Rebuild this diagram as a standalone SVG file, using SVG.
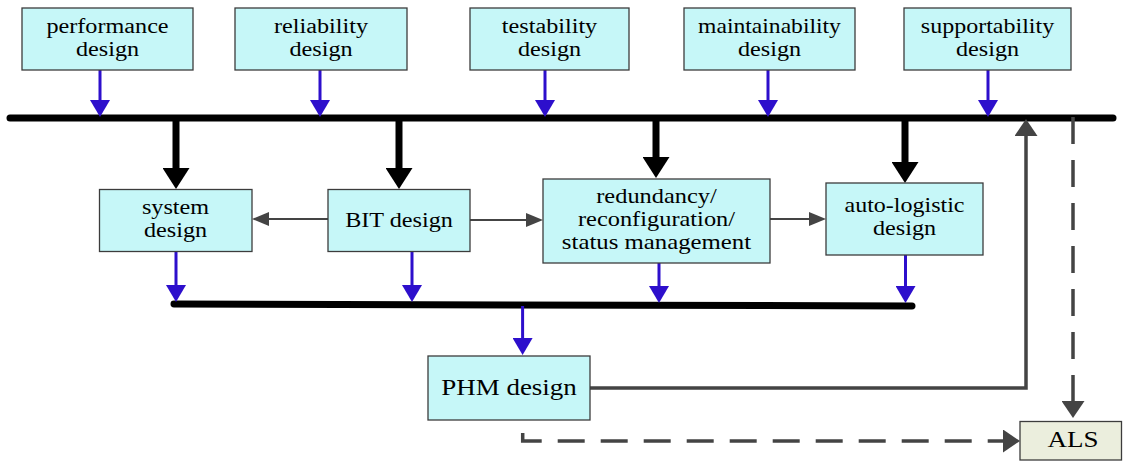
<svg xmlns="http://www.w3.org/2000/svg" width="1123" height="461" viewBox="0 0 1123 461">
<style>
.box{fill:#c6f7f8;stroke:#3c3c3c;stroke-width:1.3}
.als{fill:#ebeedd;stroke:#3c3c3c;stroke-width:1.3}
.t{font-family:"Liberation Serif","Times New Roman",serif;font-size:20px;fill:#000;text-anchor:middle}
.tb{font-family:"Liberation Serif","Times New Roman",serif;font-size:22.5px;fill:#000;text-anchor:middle}
.bus{stroke:#000;stroke-width:7;stroke-linecap:round;fill:none}
.blue{stroke:#2d0fcc;stroke-width:3;fill:none;marker-end:url(#mb)}
.black{stroke:#000;stroke-width:7;fill:none;marker-end:url(#mk)}
.grey{stroke:#444;stroke-width:2;fill:none;marker-end:url(#mgs)}
.greyb{stroke:#444;stroke-width:3.5;fill:none;marker-end:url(#mg)}
.dash{stroke:#444;stroke-width:3.5;fill:none;stroke-dasharray:27 16;marker-end:url(#mg)}
</style>
<defs>
<marker id="mb" markerUnits="userSpaceOnUse" viewBox="0 0 17 20" refX="0" refY="10" markerWidth="17" markerHeight="20" orient="auto"><path d="M0,0 L17,10 L0,20 z" fill="#2d0fcc"/></marker>
<marker id="mk" markerUnits="userSpaceOnUse" viewBox="0 0 21 27" refX="0" refY="13.5" markerWidth="21" markerHeight="27" orient="auto"><path d="M0,0 L21,13.5 L0,27 z" fill="#000"/></marker>
<marker id="mgs" markerUnits="userSpaceOnUse" viewBox="0 0 17 14" refX="0" refY="7" markerWidth="17" markerHeight="14" orient="auto"><path d="M0,0 L17,7 L0,14 z" fill="#444"/></marker>
<marker id="mg" markerUnits="userSpaceOnUse" viewBox="0 0 17 23" refX="0" refY="11.5" markerWidth="17" markerHeight="23" orient="auto"><path d="M0,0 L17,11.5 L0,23 z" fill="#444"/></marker>
</defs>
<rect width="1123" height="461" fill="#fff"/>

<g id="connectors">
<path class="bus" d="M10,118 L1113,118"/>
<path class="bus" d="M174,304 L912,306"/>
<path class="blue" d="M100,70 L100,100"/>
<path class="blue" d="M320,70 L320,100"/>
<path class="blue" d="M545,70 L545,100"/>
<path class="blue" d="M768,70 L768,100"/>
<path class="blue" d="M988,70 L988,100"/>
<path class="black" d="M176,118 L176,168"/>
<path class="black" d="M399,118 L399,168"/>
<path class="black" d="M656,118 L656,157"/>
<path class="black" d="M905,118 L905,162"/>
<path class="grey" d="M328,219 L269,219"/>
<path class="grey" d="M470,220 L526,220"/>
<path class="grey" d="M770,219 L809,219"/>
<path class="blue" d="M176,252 L176,285"/>
<path class="blue" d="M412,252 L412,285"/>
<path class="blue" d="M659,263 L659,286"/>
<path class="blue" d="M905.5,255 L905.5,286"/>
<path class="blue" d="M522.6,306 L522.6,338"/>
<path class="greyb" d="M590,388 L1026,388 L1026,136"/>
<path class="dash" d="M1073,117 L1073,401"/>
<path class="dash" d="M522.7,433 L522.7,441 L1003,441"/>
</g>

<g id="performance">
<rect class="box" x="22" y="8" width="171" height="62"/>
<text class="t" transform="translate(107.5,33) scale(1.21,1)">performance</text>
<text class="t" transform="translate(107.5,55.5) scale(1.21,1)">design</text>
</g>
<g id="reliability">
<rect class="box" x="235" y="8" width="172" height="62"/>
<text class="t" transform="translate(321,33) scale(1.21,1)">reliability</text>
<text class="t" transform="translate(321,55.5) scale(1.21,1)">design</text>
</g>
<g id="testability">
<rect class="box" x="470" y="8" width="159" height="62"/>
<text class="t" transform="translate(549.5,33) scale(1.21,1)">testability</text>
<text class="t" transform="translate(549.5,55.5) scale(1.21,1)">design</text>
</g>
<g id="maintainability">
<rect class="box" x="684" y="8" width="171" height="62"/>
<text class="t" transform="translate(769.5,33) scale(1.18,1)">maintainability</text>
<text class="t" transform="translate(769.5,55.5) scale(1.21,1)">design</text>
</g>
<g id="supportability">
<rect class="box" x="904" y="8" width="167" height="62"/>
<text class="t" transform="translate(987.5,33) scale(1.2,1)">supportability</text>
<text class="t" transform="translate(987.5,55.5) scale(1.21,1)">design</text>
</g>

<g id="system">
<rect class="box" x="99.5" y="189.5" width="152.5" height="62"/>
<text class="t" transform="translate(175.5,214) scale(1.21,1)">system</text>
<text class="t" transform="translate(175.5,237) scale(1.21,1)">design</text>
</g>
<g id="bit">
<rect class="box" x="328" y="189.5" width="142" height="62"/>
<text class="t" transform="translate(399,227) scale(1.21,1)">BIT design</text>
</g>
<g id="redundancy">
<rect class="box" x="543" y="179" width="227" height="84"/>
<text class="t" transform="translate(656.5,203) scale(1.22,1)">redundancy/</text>
<text class="t" transform="translate(656.5,226) scale(1.22,1)">reconfiguration/</text>
<text class="t" transform="translate(656.5,249) scale(1.24,1)">status management</text>
</g>
<g id="autologistic">
<rect class="box" x="826" y="183" width="157" height="72"/>
<text class="t" transform="translate(904.5,212) scale(1.2,1)">auto-logistic</text>
<text class="t" transform="translate(904.5,235) scale(1.21,1)">design</text>
</g>

<g id="phm">
<rect class="box" x="428" y="356" width="162" height="64"/>
<text class="tb" transform="translate(509,395) scale(1.2,1)">PHM design</text>
</g>
<g id="als">
<rect class="als" x="1020" y="421.5" width="101.5" height="38.5"/>
<text class="tb" transform="translate(1073,447) scale(1.2,1)">ALS</text>
</g>
</svg>
